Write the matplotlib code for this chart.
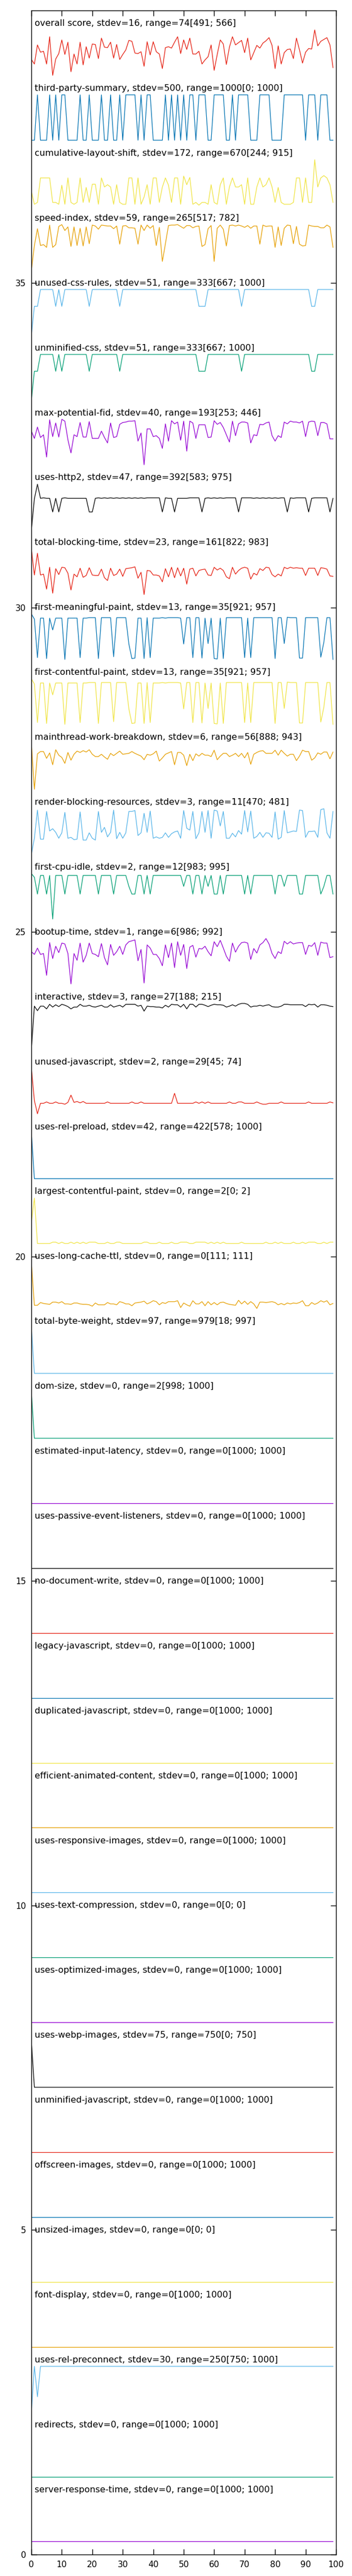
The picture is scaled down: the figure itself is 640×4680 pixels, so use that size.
import matplotlib
matplotlib.use("Agg")
import matplotlib.pyplot as plt
import numpy as np

# audit labels, top to bottom (text as printed on the chart)
labels = [
    "overall score, stdev=16, range=74[491; 566]",
    "third-party-summary, stdev=500, range=1000[0; 1000]",
    "cumulative-layout-shift, stdev=172, range=670[244; 915]",
    "speed-index, stdev=59, range=265[517; 782]",
    "unused-css-rules, stdev=51, range=333[667; 1000]",
    "unminified-css, stdev=51, range=333[667; 1000]",
    "max-potential-fid, stdev=40, range=193[253; 446]",
    "uses-http2, stdev=47, range=392[583; 975]",
    "total-blocking-time, stdev=23, range=161[822; 983]",
    "first-meaningful-paint, stdev=13, range=35[921; 957]",
    "first-contentful-paint, stdev=13, range=35[921; 957]",
    "mainthread-work-breakdown, stdev=6, range=56[888; 943]",
    "render-blocking-resources, stdev=3, range=11[470; 481]",
    "first-cpu-idle, stdev=2, range=12[983; 995]",
    "bootup-time, stdev=1, range=6[986; 992]",
    "interactive, stdev=3, range=27[188; 215]",
    "unused-javascript, stdev=2, range=29[45; 74]",
    "uses-rel-preload, stdev=42, range=422[578; 1000]",
    "largest-contentful-paint, stdev=0, range=2[0; 2]",
    "uses-long-cache-ttl, stdev=0, range=0[111; 111]",
    "total-byte-weight, stdev=97, range=979[18; 997]",
    "dom-size, stdev=0, range=2[998; 1000]",
    "estimated-input-latency, stdev=0, range=0[1000; 1000]",
    "uses-passive-event-listeners, stdev=0, range=0[1000; 1000]",
    "no-document-write, stdev=0, range=0[1000; 1000]",
    "legacy-javascript, stdev=0, range=0[1000; 1000]",
    "duplicated-javascript, stdev=0, range=0[1000; 1000]",
    "efficient-animated-content, stdev=0, range=0[1000; 1000]",
    "uses-responsive-images, stdev=0, range=0[1000; 1000]",
    "uses-text-compression, stdev=0, range=0[0; 0]",
    "uses-optimized-images, stdev=0, range=0[1000; 1000]",
    "uses-webp-images, stdev=75, range=750[0; 750]",
    "unminified-javascript, stdev=0, range=0[1000; 1000]",
    "offscreen-images, stdev=0, range=0[1000; 1000]",
    "unsized-images, stdev=0, range=0[0; 0]",
    "font-display, stdev=0, range=0[1000; 1000]",
    "uses-rel-preconnect, stdev=30, range=250[750; 1000]",
    "redirects, stdev=0, range=0[1000; 1000]",
    "server-response-time, stdev=0, range=0[1000; 1000]",
]

# values per run, as % of each audit's own min..max range (100 runs)
overall_score = [35, 25, 67, 51, 53, 25, 85, 0, 36, 48,
                 78, 46, 73, 8, 47, 25, 73, 23, 63, 38,
                 69, 68, 37, 82, 62, 61, 73, 38, 68, 35,
                 46, 56, 77, 75, 49, 48, 52, 20, 74, 45,
                 74, 52, 47, 15, 61, 63, 60, 73, 85, 48,
                 78, 57, 82, 47, 47, 53, 25, 34, 41, 67,
                 11, 46, 78, 69, 24, 62, 85, 67, 72, 77,
                 50, 82, 34, 50, 66, 60, 71, 76, 83, 66,
                 15, 65, 25, 50, 57, 58, 37, 82, 56, 27,
                 51, 59, 58, 100, 65, 75, 79, 83, 67, 17]

third_party_summary = [0, 0, 100, 0, 0, 0, 100, 0, 100, 0,
                       100, 100, 0, 0, 0, 0, 100, 0, 0, 100,
                       0, 0, 0, 100, 0, 0, 100, 0, 0, 100,
                       0, 100, 100, 100, 100, 0, 100, 0, 100, 100,
                       0, 0, 0, 0, 100, 0, 100, 0, 100, 0,
                       100, 0, 100, 100, 0, 100, 100, 100, 0, 0,
                       100, 100, 100, 100, 0, 0, 100, 0, 100, 100,
                       100, 100, 0, 0, 0, 100, 100, 100, 100, 0,
                       0, 0, 0, 100, 100, 100, 100, 100, 100, 100,
                       0, 100, 100, 100, 0, 100, 100, 100, 0, 0]

cumulative_layout_shift = [30, 2, 6, 60, 60, 60, 60, 6, 6, 2,
                           44, 2, 60, 6, 2, 6, 60, 6, 39, 6,
                           46, 46, 2, 60, 40, 45, 40, 2, 45, 6,
                           2, 2, 60, 60, 2, 60, 2, 18, 45, 2,
                           60, 60, 6, 40, 60, 44, 6, 60, 60, 2,
                           64, 45, 61, 2, 6, 0, 6, 6, 2, 45,
                           6, 2, 45, 60, 2, 40, 60, 40, 40, 45,
                           2, 60, 2, 2, 40, 60, 40, 45, 60, 40,
                           6, 39, 6, 2, 2, 2, 6, 60, 60, 6,
                           60, 6, 6, 100, 40, 60, 65, 60, 45, 6]

speed_index = [0, 54, 91, 54, 56, 50, 99, 50, 56, 96,
               100, 87, 95, 52, 95, 54, 92, 53, 95, 58,
               99, 97, 90, 99, 98, 97, 97, 91, 97, 57,
               97, 98, 93, 93, 92, 57, 99, 87, 99, 92,
               98, 54, 94, 19, 58, 98, 99, 99, 100, 96,
               92, 98, 98, 93, 96, 97, 52, 56, 91, 98,
               19, 92, 99, 90, 53, 98, 99, 97, 99, 97,
               94, 98, 92, 97, 97, 57, 99, 96, 97, 97,
               50, 95, 54, 92, 99, 98, 58, 96, 57, 53,
               54, 99, 97, 96, 96, 93, 93, 99, 95, 50]

unused_css_rules = [0, 63, 63, 100, 100, 100, 100, 100, 63, 100,
                    63, 100, 100, 100, 100, 100, 100, 100, 100, 63,
                    100, 100, 100, 100, 100, 100, 100, 100, 100, 63,
                    100, 100, 100, 100, 100, 100, 100, 100, 100, 100,
                    100, 100, 100, 100, 100, 100, 100, 100, 100, 100,
                    100, 100, 100, 100, 100, 63, 63, 63, 100, 100,
                    100, 100, 100, 100, 100, 100, 100, 100, 100, 63,
                    100, 100, 100, 100, 100, 100, 100, 100, 100, 100,
                    100, 100, 100, 100, 100, 100, 100, 100, 100, 100,
                    100, 100, 63, 63, 100, 100, 100, 100, 100, 100]

unminified_css = [0, 63, 63, 100, 100, 100, 100, 100, 63, 100,
                  63, 100, 100, 100, 100, 100, 100, 100, 100, 63,
                  100, 100, 100, 100, 100, 100, 100, 100, 100, 63,
                  100, 100, 100, 100, 100, 100, 100, 100, 100, 100,
                  100, 100, 100, 100, 100, 100, 100, 100, 100, 100,
                  100, 100, 100, 100, 100, 63, 63, 63, 100, 100,
                  100, 100, 100, 100, 100, 100, 100, 100, 100, 63,
                  100, 100, 100, 100, 100, 100, 100, 100, 100, 100,
                  100, 100, 100, 100, 100, 100, 100, 100, 100, 100,
                  100, 100, 63, 63, 100, 100, 100, 100, 100, 100]

max_potential_fid = [74, 58, 83, 60, 66, 17, 99, 62, 92, 61,
                     100, 96, 55, 26, 66, 62, 93, 61, 61, 95,
                     58, 58, 58, 74, 60, 48, 92, 60, 62, 89,
                     93, 94, 96, 96, 97, 52, 70, 0, 79, 79,
                     62, 64, 58, 36, 90, 52, 97, 90, 94, 54,
                     96, 30, 96, 92, 58, 88, 88, 88, 60, 61,
                     97, 89, 93, 82, 66, 50, 96, 64, 90, 94,
                     94, 92, 48, 66, 64, 89, 88, 92, 94, 64,
                     52, 64, 60, 94, 90, 96, 94, 94, 92, 96,
                     62, 94, 96, 95, 64, 93, 93, 90, 57, 57]

uses_http2 = [0, 68, 100, 69, 70, 69, 69, 39, 69, 39,
              69, 70, 69, 69, 69, 69, 69, 69, 69, 39,
              39, 69, 70, 69, 70, 69, 70, 69, 70, 69,
              70, 69, 70, 69, 70, 69, 70, 69, 70, 70,
              70, 70, 70, 39, 70, 69, 69, 39, 69, 69,
              69, 69, 70, 70, 70, 70, 39, 69, 70, 69,
              70, 69, 70, 69, 70, 70, 70, 70, 39, 70,
              70, 70, 70, 69, 70, 69, 70, 69, 70, 69,
              70, 69, 70, 70, 39, 70, 69, 70, 70, 70,
              70, 39, 69, 70, 70, 70, 70, 70, 39, 69]

total_blocking_time = [100, 43, 91, 43, 45, 12, 60, 3, 57, 44,
                       60, 59, 47, 10, 45, 39, 58, 38, 42, 59,
                       43, 42, 42, 56, 37, 31, 58, 42, 45, 56,
                       40, 57, 58, 59, 61, 36, 49, 0, 53, 52,
                       43, 43, 41, 28, 57, 39, 60, 37, 59, 41,
                       58, 23, 56, 58, 41, 53, 55, 56, 43, 42,
                       60, 54, 58, 53, 39, 35, 60, 45, 53, 58,
                       60, 58, 34, 47, 43, 57, 53, 60, 59, 44,
                       39, 45, 41, 60, 57, 60, 58, 59, 58, 58,
                       42, 58, 58, 58, 42, 59, 58, 56, 41, 40]

first_meaningful_paint = [100, 89, 4, 91, 91, 2, 91, 65, 91, 91,
                          91, 0, 91, 91, 91, 91, 4, 91, 91, 92,
                          92, 92, 2, 92, 92, 92, 92, 6, 92, 92,
                          92, 92, 34, 2, 3, 91, 91, 2, 92, 4,
                          91, 91, 91, 92, 91, 92, 92, 92, 92, 91,
                          34, 92, 92, 4, 92, 92, 3, 91, 35, 91,
                          2, 1, 91, 2, 92, 92, 92, 92, 92, 92,
                          4, 91, 4, 92, 92, 92, 92, 92, 92, 92,
                          2, 92, 92, 35, 93, 92, 92, 92, 3, 3,
                          92, 92, 92, 92, 92, 5, 38, 92, 92, 0]

first_contentful_paint = [100, 89, 4, 91, 91, 2, 91, 65, 91, 91,
                          91, 0, 91, 91, 91, 91, 4, 91, 91, 92,
                          92, 92, 2, 92, 92, 92, 92, 6, 92, 92,
                          92, 92, 34, 2, 3, 91, 91, 2, 92, 4,
                          91, 91, 91, 92, 91, 92, 92, 92, 92, 91,
                          34, 92, 92, 4, 92, 92, 3, 91, 35, 91,
                          2, 1, 91, 2, 92, 92, 92, 92, 92, 92,
                          4, 91, 4, 92, 92, 92, 92, 92, 92, 92,
                          2, 92, 92, 35, 93, 92, 92, 92, 3, 3,
                          92, 92, 92, 92, 92, 5, 38, 92, 92, 0]

mainthread_work_breakdown = [100, 0, 78, 83, 83, 68, 80, 54, 87, 75,
                             70, 57, 81, 64, 77, 84, 81, 85, 82, 87,
                             77, 72, 72, 77, 71, 66, 79, 74, 79, 84,
                             77, 78, 79, 83, 79, 76, 73, 65, 77, 75,
                             78, 84, 62, 69, 77, 80, 83, 54, 81, 81,
                             75, 52, 77, 63, 78, 73, 79, 75, 75, 72,
                             86, 65, 73, 79, 79, 72, 75, 79, 72, 79,
                             69, 81, 55, 77, 81, 84, 85, 79, 79, 79,
                             86, 75, 86, 79, 73, 77, 77, 63, 73, 86,
                             83, 83, 64, 69, 80, 77, 82, 82, 67, 82]

render_blocking_resources = [0, 35, 97, 33, 33, 94, 51, 56, 48, 35,
                             47, 92, 35, 37, 32, 33, 93, 31, 31, 47,
                             35, 31, 94, 48, 59, 38, 48, 97, 34, 48,
                             35, 47, 94, 94, 96, 41, 47, 90, 48, 95,
                             35, 38, 35, 37, 47, 37, 45, 49, 51, 35,
                             96, 57, 53, 94, 34, 47, 94, 48, 96, 35,
                             97, 95, 62, 94, 35, 35, 46, 38, 52, 44,
                             96, 49, 95, 35, 39, 48, 37, 47, 46, 37,
                             93, 33, 37, 96, 47, 49, 51, 50, 97, 96,
                             37, 50, 50, 51, 37, 98, 100, 47, 35, 94]

first_cpu_idle = [100, 92, 55, 96, 96, 55, 96, 0, 96, 96,
                  96, 55, 96, 96, 96, 96, 55, 96, 96, 96,
                  96, 96, 55, 96, 96, 96, 96, 55, 96, 96,
                  96, 96, 72, 55, 55, 96, 96, 55, 96, 55,
                  96, 96, 96, 96, 96, 96, 96, 96, 96, 96,
                  72, 96, 96, 55, 96, 96, 55, 96, 72, 96,
                  55, 55, 96, 55, 96, 96, 96, 96, 96, 96,
                  55, 96, 55, 96, 96, 96, 96, 96, 96, 96,
                  55, 96, 96, 72, 96, 96, 96, 96, 55, 55,
                  96, 96, 96, 96, 96, 55, 72, 96, 96, 55]

bootup_time = [71, 65, 79, 65, 67, 19, 91, 56, 83, 69,
               90, 88, 67, 0, 67, 52, 90, 48, 63, 90,
               67, 65, 60, 89, 58, 42, 87, 63, 71, 83,
               65, 86, 93, 95, 97, 51, 76, 2, 86, 79,
               65, 65, 56, 40, 86, 58, 90, 36, 93, 63,
               87, 34, 81, 85, 59, 78, 77, 83, 71, 62,
               93, 82, 96, 79, 61, 50, 90, 70, 83, 91,
               92, 90, 54, 78, 68, 86, 91, 100, 88, 67,
               56, 71, 67, 94, 88, 93, 88, 90, 91, 91,
               65, 85, 83, 91, 63, 92, 90, 90, 58, 60]

interactive = [0, 94, 84, 94, 94, 88, 98, 92, 97, 93,
               98, 96, 93, 88, 92, 92, 98, 94, 94, 96,
               93, 92, 94, 96, 92, 92, 97, 92, 94, 96,
               92, 98, 98, 98, 98, 94, 96, 83, 94, 93,
               93, 92, 92, 90, 96, 92, 98, 97, 97, 92,
               98, 88, 98, 98, 92, 98, 98, 96, 93, 96,
               98, 97, 97, 96, 92, 94, 97, 94, 98, 100,
               100, 98, 92, 94, 94, 96, 94, 96, 97, 93,
               92, 92, 94, 98, 98, 97, 97, 97, 97, 97,
               93, 98, 97, 98, 92, 97, 97, 96, 94, 93]

unused_javascript = [100, 29, 0, 23, 23, 26, 23, 23, 26, 23,
                     23, 21, 25, 41, 25, 27, 24, 27, 23, 23,
                     23, 23, 23, 23, 23, 26, 23, 23, 23, 23,
                     23, 23, 23, 26, 23, 23, 26, 23, 23, 23,
                     23, 23, 23, 23, 23, 23, 23, 45, 23, 23,
                     23, 23, 23, 23, 26, 23, 26, 23, 26, 23,
                     23, 23, 23, 23, 23, 26, 23, 23, 26, 26,
                     23, 23, 23, 23, 26, 23, 21, 21, 23, 23,
                     23, 23, 26, 23, 23, 23, 23, 23, 23, 23,
                     23, 26, 23, 23, 23, 23, 23, 23, 26, 24]

uses_rel_preload = [100] + [0] * 99

largest_contentful_paint = [47, 100, 0, 0, 0, 0, 0, 3, 3, 0,
                            3, 0, 0, 3, 0, 3, 0, 3, 0, 3,
                            3, 3, 0, 0, 0, 3, 0, 0, 3, 3,
                            0, 0, 0, 0, 0, 0, 0, 3, 3, 0,
                            0, 0, 3, 0, 0, 0, 3, 0, 0, 3,
                            3, 3, 0, 0, 3, 3, 3, 3, 0, 3,
                            0, 3, 0, 3, 0, 0, 0, 0, 0, 3,
                            0, 0, 0, 0, 0, 0, 0, 3, 0, 0,
                            3, 0, 3, 0, 0, 0, 3, 0, 0, 3,
                            0, 3, 3, 3, 0, 0, 3, 0, 3, 3]

uses_long_cache_ttl = [100, 7, 7, 13, 11, 10, 9, 14, 14, 12,
                       15, 10, 10, 9, 12, 12, 10, 9, 9, 8,
                       5, 12, 8, 8, 8, 13, 10, 10, 8, 15,
                       13, 10, 10, 6, 12, 13, 14, 16, 10, 13,
                       17, 15, 8, 13, 11, 15, 15, 15, 17, 2,
                       12, 8, 5, 17, 10, 10, 15, 6, 15, 8,
                       13, 8, 13, 14, 11, 9, 8, 7, 18, 10,
                       16, 9, 15, 10, 0, 14, 14, 13, 14, 15,
                       13, 8, 11, 8, 12, 10, 12, 11, 13, 17,
                       6, 6, 13, 9, 12, 17, 14, 17, 8, 11]

total_byte_weight = [100] + [0] * 99
dom_size = [100] + [0] * 99
uses_webp_images = [100] + [0] * 99
uses_rel_preconnect = [0, 100, 33] + [100] * 97
flat = [0] * 100

series = [
    overall_score, third_party_summary, cumulative_layout_shift, speed_index,
    unused_css_rules, unminified_css, max_potential_fid, uses_http2,
    total_blocking_time, first_meaningful_paint, first_contentful_paint,
    mainthread_work_breakdown, render_blocking_resources, first_cpu_idle,
    bootup_time, interactive, unused_javascript, uses_rel_preload,
    largest_contentful_paint, uses_long_cache_ttl, total_byte_weight, dom_size,
    flat, flat, flat, flat, flat, flat, flat, flat, flat,
    uses_webp_images, flat, flat, flat, flat, uses_rel_preconnect, flat, flat,
]

# gnuplot default line colours
palette = ['#9400d3', '#009e73', '#56b4e9', '#e69f00',
           '#f0e442', '#0072b2', '#e51e10', '#000000']

n = len(labels)
runs = np.arange(100)

fig = plt.figure(figsize=(6.4, 46.8), dpi=100)
ax = fig.add_axes([57 / 640, 39 / 4680, 554 / 640, 4622 / 4680])

for i, (lab, vals) in enumerate(zip(labels, series)):
    top = n - i
    y = (top - 1) + 0.2 + 0.7 * np.array(vals) / 100.0
    ax.plot(runs, y, color=palette[(n - 1 - i) % 8], lw=0.9)
    ax.text(1, top, lab, ha='left', va='center', fontsize=11.5)

ax.set_xlim(0, 100)
ax.set_ylim(0, 39.2)
ax.set_xticks(np.arange(0, 101, 10))
ax.set_yticks(np.arange(0, 36, 5))
ax.tick_params(direction='in', top=True, right=True, length=7, width=1,
               labelsize=11)
ax.tick_params(axis='y', pad=7)
ax.tick_params(axis='x', pad=8)
for s in ax.spines.values():
    s.set_linewidth(1)

fig.savefig("out.png", dpi=100)
